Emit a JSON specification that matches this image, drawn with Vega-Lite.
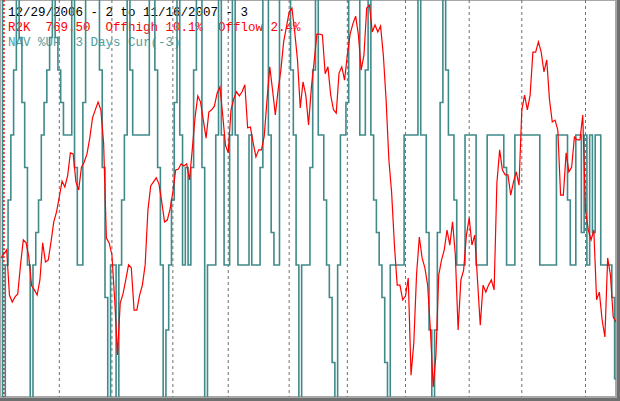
{
"$schema":"https://vega.github.io/schema/vega-lite/v6.json",
"width":616,"height":397,
"autosize":{"type":"none"},
"padding":{"left":0,"top":0,"right":4,"bottom":4},
"background":"#6f6f6f",
"config":{"view":{"stroke":"#a8a8a8","strokeWidth":2,"fill":"white"}},
"datasets":{
"r2k":[{"day":0,"price":786.9},{"day":1,"price":788.0},{"day":2,"price":789.1},{"day":3,"price":776.8},{"day":4,"price":774.9},{"day":5,"price":776.3},{"day":6,"price":777.1},{"day":7,"price":785.0},{"day":8,"price":791.8},{"day":9,"price":791.0},{"day":10,"price":787.2},{"day":11,"price":779.3},{"day":12,"price":778.2},{"day":13,"price":776.8},{"day":14,"price":780.9},{"day":15,"price":791.0},{"day":16,"price":785.8},{"day":17,"price":786.3},{"day":18,"price":791.2},{"day":19,"price":796.7},{"day":20,"price":799.4},{"day":21,"price":803.5},{"day":22,"price":807.8},{"day":23,"price":806.2},{"day":24,"price":809.2},{"day":25,"price":815.5},{"day":26,"price":815.2},{"day":27,"price":807.6},{"day":28,"price":805.4},{"day":29,"price":811.6},{"day":30,"price":813.0},{"day":31,"price":815.2},{"day":32,"price":819.5},{"day":33,"price":825.0},{"day":34,"price":827.2},{"day":35,"price":829.3},{"day":36,"price":827.2},{"day":37,"price":818.2},{"day":38,"price":792.3},{"day":39,"price":791.0},{"day":40,"price":787.7},{"day":41,"price":775.5},{"day":42,"price":760.5},{"day":43,"price":774.6},{"day":44,"price":777.1},{"day":45,"price":780.9},{"day":46,"price":785.0},{"day":47,"price":784.2},{"day":48,"price":772.7},{"day":49,"price":772.7},{"day":50,"price":776.8},{"day":51,"price":779.5},{"day":52,"price":785.0},{"day":53,"price":799.9},{"day":54,"price":806.5},{"day":55,"price":807.6},{"day":56,"price":808.7},{"day":57,"price":807.0},{"day":58,"price":802.1},{"day":59,"price":796.7},{"day":60,"price":797.2},{"day":61,"price":800.2},{"day":62,"price":804.8},{"day":63,"price":810.8},{"day":64,"price":811.1},{"day":65,"price":812.5},{"day":66,"price":811.9},{"day":67,"price":812.5},{"day":68,"price":808.1},{"day":69,"price":816.3},{"day":70,"price":825.0},{"day":71,"price":831.0},{"day":72,"price":829.3},{"day":73,"price":824.4},{"day":74,"price":819.5},{"day":75,"price":826.6},{"day":76,"price":827.2},{"day":77,"price":828.2},{"day":78,"price":831.8},{"day":79,"price":833.4},{"day":80,"price":825.8},{"day":81,"price":817.6},{"day":82,"price":815.5},{"day":83,"price":827.2},{"day":84,"price":830.2},{"day":85,"price":832.1},{"day":86,"price":831.0},{"day":87,"price":832.1},{"day":88,"price":834.0},{"day":89,"price":822.3},{"day":90,"price":822.5},{"day":91,"price":818.2},{"day":92,"price":814.4},{"day":93,"price":816.3},{"day":94,"price":816.3},{"day":95,"price":820.1},{"day":96,"price":829.9},{"day":97,"price":838.9},{"day":98,"price":832.6},{"day":99,"price":825.8},{"day":100,"price":832.6},{"day":101,"price":838.0},{"day":102,"price":845.7},{"day":103,"price":849.7},{"day":104,"price":853.8},{"day":105,"price":854.9},{"day":106,"price":848.4},{"day":107,"price":840.8},{"day":108,"price":827.7},{"day":109,"price":834.8},{"day":110,"price":831.2},{"day":111,"price":823.1},{"day":112,"price":833.1},{"day":113,"price":840.2},{"day":114,"price":847.8},{"day":115,"price":847.8},{"day":116,"price":847.6},{"day":117,"price":837.0},{"day":118,"price":838.9},{"day":119,"price":831.2},{"day":120,"price":827.2},{"day":121,"price":826.3},{"day":122,"price":837.2},{"day":123,"price":838.9},{"day":124,"price":835.3},{"day":125,"price":842.1},{"day":126,"price":847.8},{"day":127,"price":850.6},{"day":128,"price":852.7},{"day":129,"price":847.6},{"day":130,"price":838.0},{"day":131,"price":842.1},{"day":132,"price":854.9},{"day":133,"price":855.7},{"day":134,"price":848.4},{"day":135,"price":850.3},{"day":136,"price":848.4},{"day":137,"price":850.0},{"day":138,"price":842.1},{"day":139,"price":829.9},{"day":140,"price":813.6},{"day":141,"price":804.6},{"day":142,"price":790.4},{"day":143,"price":779.5},{"day":144,"price":779.5},{"day":145,"price":775.5},{"day":146,"price":776.5},{"day":147,"price":781.4},{"day":148,"price":755.0},{"day":149,"price":763.7},{"day":150,"price":782.5},{"day":151,"price":792.6},{"day":152,"price":786.9},{"day":153,"price":784.2},{"day":154,"price":779.5},{"day":155,"price":767.3},{"day":156,"price":751.8},{"day":157,"price":760.5},{"day":158,"price":782.2},{"day":159,"price":786.3},{"day":160,"price":789.1},{"day":161,"price":794.5},{"day":162,"price":790.4},{"day":163,"price":796.7},{"day":164,"price":787.7},{"day":165,"price":767.3},{"day":166,"price":780.9},{"day":167,"price":783.6},{"day":168,"price":793.1},{"day":169,"price":797.8},{"day":170,"price":790.4},{"day":171,"price":793.1},{"day":172,"price":780.9},{"day":173,"price":768.6},{"day":174,"price":779.5},{"day":175,"price":777.6},{"day":176,"price":779.5},{"day":177,"price":780.9},{"day":178,"price":778.2},{"day":179,"price":807.3},{"day":180,"price":816.3},{"day":181,"price":810.8},{"day":182,"price":809.5},{"day":183,"price":809.5},{"day":184,"price":804.0},{"day":185,"price":807.6},{"day":186,"price":810.3},{"day":187,"price":806.7},{"day":188,"price":827.2},{"day":189,"price":831.2},{"day":190,"price":827.2},{"day":191,"price":831.2},{"day":192,"price":842.9},{"day":193,"price":842.9},{"day":194,"price":845.7},{"day":195,"price":842.9},{"day":196,"price":837.5},{"day":197,"price":840.8},{"day":198,"price":829.9},{"day":199,"price":823.9},{"day":200,"price":824.4},{"day":201,"price":821.7},{"day":202,"price":804.0},{"day":203,"price":804.0},{"day":204,"price":815.5},{"day":205,"price":810.3},{"day":206,"price":811.6},{"day":207,"price":819.8},{"day":208,"price":819.0},{"day":209,"price":819.0},{"day":210,"price":825.8},{"day":211,"price":799.9},{"day":212,"price":794.5},{"day":213,"price":791.8},{"day":214,"price":794.5},{"day":215,"price":775.5},{"day":216,"price":777.6},{"day":217,"price":770.0},{"day":218,"price":765.4},{"day":219,"price":786.9},{"day":220,"price":782.2},{"day":221,"price":770.8},{"day":222,"price":769.5}],
"nav":[{"day":0,"level":7},{"day":1,"level":-7},{"day":2,"level":-2},{"day":3,"level":0},{"day":4,"level":2},{"day":5,"level":4},{"day":6,"level":7},{"day":7,"level":5},{"day":8,"level":3},{"day":9,"level":1},{"day":10,"level":-2},{"day":11,"level":-7},{"day":12,"level":-2},{"day":13,"level":-1},{"day":14,"level":0},{"day":15,"level":2},{"day":16,"level":3},{"day":17,"level":4},{"day":18,"level":5},{"day":19,"level":7},{"day":20,"level":5},{"day":21,"level":4},{"day":22,"level":3},{"day":23,"level":2},{"day":24,"level":2},{"day":25,"level":2},{"day":26,"level":7},{"day":27,"level":1},{"day":28,"level":-2},{"day":29,"level":-2},{"day":30,"level":3},{"day":31,"level":7},{"day":32,"level":7},{"day":33,"level":7},{"day":34,"level":7},{"day":35,"level":7},{"day":36,"level":4},{"day":37,"level":1},{"day":38,"level":-3},{"day":39,"level":-7},{"day":40,"level":-2},{"day":41,"level":-2},{"day":42,"level":-7},{"day":43,"level":-2},{"day":44,"level":0},{"day":45,"level":2},{"day":46,"level":7},{"day":47,"level":4},{"day":48,"level":2},{"day":49,"level":2},{"day":50,"level":2},{"day":51,"level":2},{"day":52,"level":2},{"day":53,"level":2},{"day":54,"level":7},{"day":55,"level":7},{"day":56,"level":4},{"day":57,"level":1},{"day":58,"level":-2},{"day":59,"level":-7},{"day":60,"level":-4},{"day":61,"level":-2},{"day":62,"level":0},{"day":63,"level":3},{"day":64,"level":7},{"day":65,"level":2},{"day":66,"level":-2},{"day":67,"level":1},{"day":68,"level":-2},{"day":69,"level":1},{"day":70,"level":4},{"day":71,"level":7},{"day":72,"level":7},{"day":73,"level":1},{"day":74,"level":-7},{"day":75,"level":-2},{"day":76,"level":-2},{"day":77,"level":-2},{"day":78,"level":2},{"day":79,"level":7},{"day":80,"level":2},{"day":81,"level":-2},{"day":82,"level":-2},{"day":83,"level":2},{"day":84,"level":7},{"day":85,"level":2},{"day":86,"level":-2},{"day":87,"level":-2},{"day":88,"level":-2},{"day":89,"level":-2},{"day":90,"level":2},{"day":91,"level":-2},{"day":92,"level":-2},{"day":93,"level":-2},{"day":94,"level":1},{"day":95,"level":7},{"day":96,"level":7},{"day":97,"level":2},{"day":98,"level":-1},{"day":99,"level":-2},{"day":100,"level":-2},{"day":101,"level":7},{"day":102,"level":7},{"day":103,"level":7},{"day":104,"level":7},{"day":105,"level":4},{"day":106,"level":2},{"day":107,"level":-2},{"day":108,"level":-7},{"day":109,"level":-2},{"day":110,"level":-2},{"day":111,"level":-2},{"day":112,"level":1},{"day":113,"level":4},{"day":114,"level":7},{"day":115,"level":2},{"day":116,"level":2},{"day":117,"level":0},{"day":118,"level":-2},{"day":119,"level":-3},{"day":120,"level":-5},{"day":121,"level":-7},{"day":122,"level":-2},{"day":123,"level":2},{"day":124,"level":2},{"day":125,"level":3},{"day":126,"level":7},{"day":127,"level":7},{"day":128,"level":7},{"day":129,"level":7},{"day":130,"level":2},{"day":131,"level":2},{"day":132,"level":4},{"day":133,"level":7},{"day":134,"level":2},{"day":135,"level":0},{"day":136,"level":-1},{"day":137,"level":-2},{"day":138,"level":-3},{"day":139,"level":-5},{"day":140,"level":-7},{"day":141,"level":-2},{"day":142,"level":-2},{"day":143,"level":-2},{"day":144,"level":-2},{"day":145,"level":-2},{"day":146,"level":2},{"day":147,"level":2},{"day":148,"level":2},{"day":149,"level":2},{"day":150,"level":2},{"day":151,"level":7},{"day":152,"level":2},{"day":153,"level":2},{"day":154,"level":-1},{"day":155,"level":-4},{"day":156,"level":-7},{"day":157,"level":-4},{"day":158,"level":-1},{"day":159,"level":3},{"day":160,"level":7},{"day":161,"level":4},{"day":162,"level":2},{"day":163,"level":2},{"day":164,"level":0},{"day":165,"level":-2},{"day":166,"level":-2},{"day":167,"level":-2},{"day":168,"level":2},{"day":169,"level":2},{"day":170,"level":2},{"day":171,"level":2},{"day":172,"level":-2},{"day":173,"level":-2},{"day":174,"level":-2},{"day":175,"level":-2},{"day":176,"level":2},{"day":177,"level":2},{"day":178,"level":2},{"day":179,"level":2},{"day":180,"level":2},{"day":181,"level":2},{"day":182,"level":1},{"day":183,"level":-2},{"day":184,"level":-2},{"day":185,"level":-2},{"day":186,"level":2},{"day":187,"level":2},{"day":188,"level":2},{"day":189,"level":2},{"day":190,"level":2},{"day":191,"level":2},{"day":192,"level":2},{"day":193,"level":2},{"day":194,"level":2},{"day":195,"level":-2},{"day":196,"level":-2},{"day":197,"level":-2},{"day":198,"level":-2},{"day":199,"level":-2},{"day":200,"level":-2},{"day":201,"level":2},{"day":202,"level":2},{"day":203,"level":2},{"day":204,"level":2},{"day":205,"level":0},{"day":206,"level":-2},{"day":207,"level":-2},{"day":208,"level":2},{"day":209,"level":2},{"day":210,"level":-1},{"day":211,"level":2},{"day":212,"level":-2},{"day":213,"level":2},{"day":214,"level":-1},{"day":215,"level":2},{"day":216,"level":2},{"day":217,"level":-2},{"day":218,"level":-2},{"day":219,"level":-2},{"day":220,"level":-2},{"day":221,"level":-3},{"day":222,"level":-5.5}],
"months":[{"day":21,"month":"Feb"},{"day":40,"month":"Mar"},{"day":62,"month":"Apr"},{"day":82,"month":"May"},{"day":104,"month":"Jun"},{"day":125,"month":"Jul"},{"day":146,"month":"Aug"},{"day":169,"month":"Sep"},{"day":188,"month":"Oct"},{"day":211,"month":"Nov"}],
"years":[{"day":1,"year":"2007"}],
"header":[{"row":1,"text":"12/29/2006 - 2 to 11/16/2007 - 3"},{"row":2,"text":"R2K\u00a0\u00a0769.50\u00a0\u00a0Offhigh 10.1%\u00a0\u00a0Offlow 2.4%"},{"row":3,"text":"NAV %UP\u00a0\u00a03 Days Cur(-3)"}]
},
"layer":[
{"data":{"name":"months"},"mark":{"type":"rule","stroke":"#707070","strokeWidth":1,"strokeDash":[3,3]},
 "encoding":{"x":{"field":"day","type":"quantitative","scale":{"domain":[-0.412,222.01],"nice":false,"zero":false},"axis":null}}},
{"data":{"name":"years"},"mark":{"type":"rule","stroke":"#ff0000","strokeWidth":1.5,"strokeDash":[2,2]},
 "encoding":{"x":{"field":"day","type":"quantitative","scale":{"domain":[-0.412,222.01],"nice":false,"zero":false},"axis":null}}},
{"data":{"name":"header"},"mark":{"type":"text","align":"left","baseline":"middle","font":"Liberation Mono","fontSize":12.5},
 "encoding":{"x":{"value":8},
  "y":{"field":"row","type":"quantitative","scale":{"domain":[1,3],"range":[11.5,41.5]},"axis":null},
  "text":{"field":"text"},
  "color":{"field":"row","type":"nominal","scale":{"domain":[1,2,3],"range":["#000000","#ff0000","#4f9e9e"]},"legend":null}}},
{"data":{"name":"nav"},"mark":{"type":"line","stroke":"#408a8a","strokeWidth":1.6,"clip":true,"interpolate":"step"},
 "encoding":{"x":{"field":"day","type":"quantitative","scale":{"domain":[-0.412,222.01],"nice":false,"zero":false},"axis":null},
  "y":{"field":"level","type":"quantitative","scale":{"domain":[-6.062,6.153],"nice":false,"zero":false},"axis":null}}},
{"data":{"name":"r2k"},"mark":{"type":"line","stroke":"#ff0000","strokeWidth":1.2,"clip":true},
 "encoding":{"x":{"field":"day","type":"quantitative","scale":{"domain":[-0.412,222.01],"nice":false,"zero":false},"axis":null},
  "y":{"field":"price","type":"quantitative","scale":{"domain":[749.05,857.09],"nice":false,"zero":false},"axis":null}}}
],
"resolve":{"scale":{"y":"independent","color":"independent"}}
}
